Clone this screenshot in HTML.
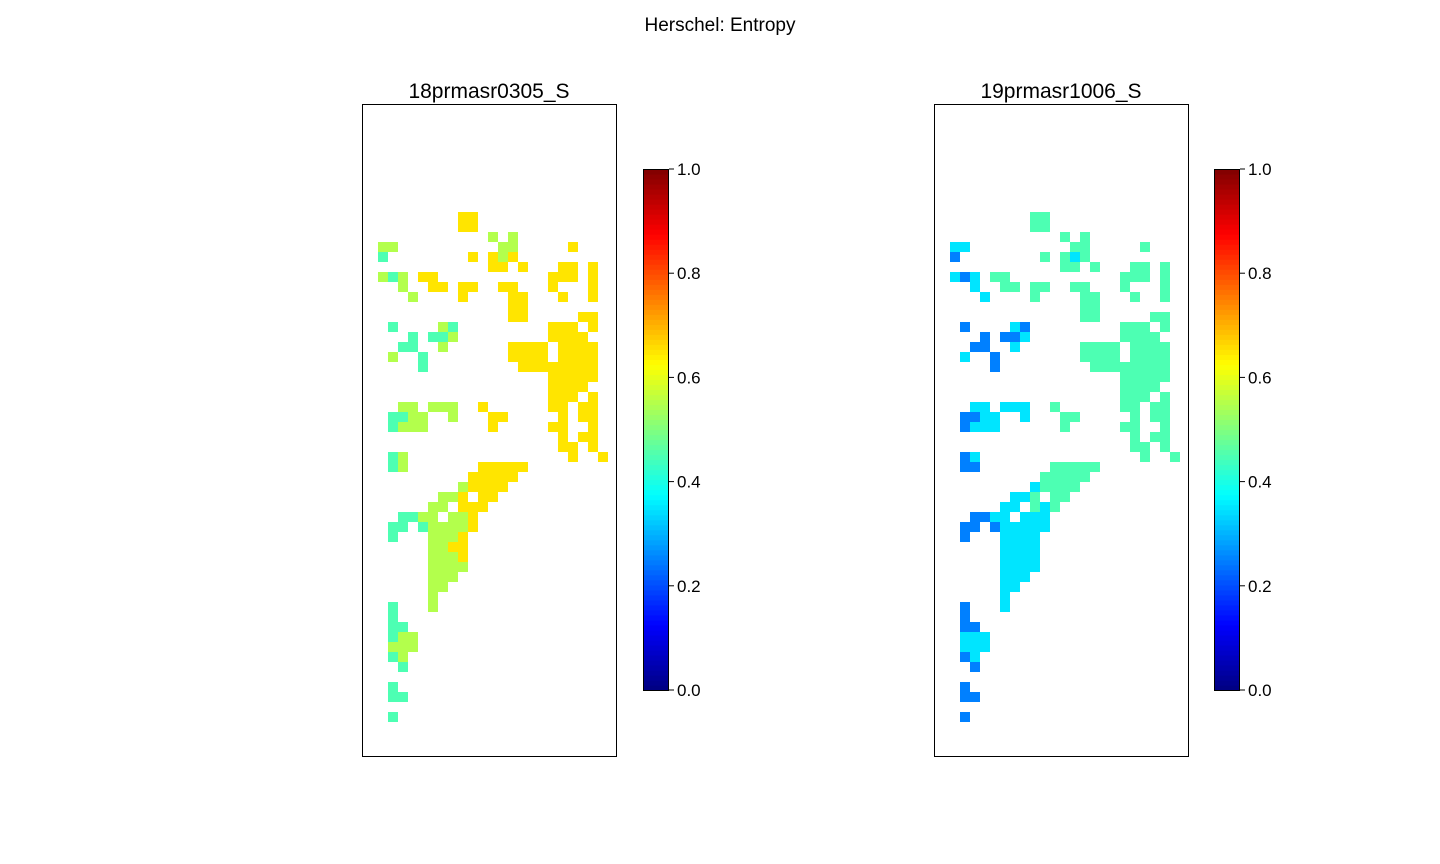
<!DOCTYPE html>
<html><head><meta charset="utf-8"><style>
html,body{margin:0;padding:0;background:#fff;}
svg{display:block;font-family:"Liberation Sans","DejaVu Sans",sans-serif;}
</style></head><body>
<svg id="fig" width="1440" height="864" viewBox="0 0 1440 864" xmlns="http://www.w3.org/2000/svg">
<rect width="1440" height="864" fill="#fff"/>
<text x="720" y="31" font-size="19" text-anchor="middle">Herschel: Entropy</text>
<g id="panels"></g>
</svg>
<script>
// each digit d is a value bin: value = (d + 0.5) / 10
const leftGrid = [
"........66.............",
"........66.............",
"...........5.5.........",
"55..........55.....6...",
"4........6.656.........",
"...........66.6...66.6.",
"545.66...........666.6.",
"..5..66.66..66...6...6.",
"...5....6....66...6..6.",
".............66........",
".............66.....66.",
".4....54.........666.6.",
"...4.445.........6666..",
"..44..5......6666.6666.",
".5..4........6666.6666.",
"....4.........66666666.",
".................66666.",
".................6666..",
".................666.6.",
"..55.555..6......66.66.",
".4455..5...66.....6.66.",
".4555......6.....66..6.",
"..................6.66.",
"..................66.6.",
".45................6..6",
".45.......66666........",
".........66666.........",
"........56666..........",
"......556.66...........",
".....55.666............",
"..4455.556.............",
".44.455556.............",
".4...5556..............",
".....5566..............",
".....5556..............",
".....5555..............",
".....555...............",
".....55................",
".....5.................",
".4...5.................",
".4.....................",
".44....................",
".455...................",
".555...................",
".45....................",
"..4....................",
".......................",
".4.....................",
".44....................",
".......................",
".4.....................",
"......................."
];
const rightGrid = [
"........44.............",
"........44.............",
"...........4.4.........",
"33..........44.....4...",
"2........4.434.........",
"...........44.4...44.4.",
"323.44...........444.4.",
"..3..44.44..44...4...4.",
"...3....4....44...4..4.",
".............44........",
".............44.....44.",
".2....32.........444.4.",
"...2.223.........4444..",
"..22..3......4444.4444.",
".3..2........4444.4444.",
"....2.........44444444.",
".................44444.",
".................4444..",
".................444.4.",
"..33.333..4......44.44.",
".2233..3...44.....4.44.",
".2333......4.....44..4.",
"..................4.44.",
"..................44.4.",
".23................4..4",
".22.......44444........",
".........44444.........",
"........34444..........",
"......334.44...........",
".....33.434............",
"..2233.333.............",
".22.233333.............",
".2...3333..............",
".....3333..............",
".....3333..............",
".....3333..............",
".....333...............",
".....33................",
".....3.................",
".2...3.................",
".2.....................",
".22....................",
".333...................",
".333...................",
".23....................",
"..2....................",
".......................",
".2.....................",
".22....................",
".......................",
".2.....................",
"......................."
];
const panelTitles = ["18prmasr0305_S", "19prmasr1006_S"];
const cbTicks = [0.0, 0.2, 0.4, 0.6, 0.8, 1.0];
const cbTickLabels = ["0.0", "0.2", "0.4", "0.6", "0.8", "1.0"];

const NS = "http://www.w3.org/2000/svg";
function jet(v){
  v = Math.max(0, Math.min(1, v));
  const f = x => Math.max(0, Math.min(1, x));
  const r = f(1.5 - Math.abs(4*v - 3));
  const g = f(1.5 - Math.abs(4*v - 2));
  const b = f(1.5 - Math.abs(4*v - 1));
  return `rgb(${Math.round(r*255)},${Math.round(g*255)},${Math.round(b*255)})`;
}
function mk(tag, attrs, parent){
  const e = document.createElementNS(NS, tag);
  for (const k in attrs) e.setAttribute(k, attrs[k]);
  parent.appendChild(e);
  return e;
}
const root = document.getElementById("panels");
const panels = [
  {ax:362, grid:leftGrid, title:panelTitles[0], cb:643},
  {ax:934, grid:rightGrid, title:panelTitles[1], cb:1214}
];
const axTop = 104, axH = 652, axW = 254;
const gx0 = 16, gy0 = 108, cell = 10;
const cbTop = 169, cbBot = 690, cbW = 26;
const cbY = v => cbBot - v*(cbBot - cbTop);

panels.forEach((p, pi) => {
  const g = mk("g", {}, root);
  
  
  const t = mk("text", {x: p.ax + axW/2, y: 98, "font-size": 21, "text-anchor": "middle"}, g);
  
  
  t.textContent = p.title;
  const hm = mk("g", {}, g);
  
  
  p.grid.forEach((row, r) => {
    for (let c = 0; c < row.length; c++){
      const ch = row[c];
      if (ch === ".") continue;
      const v = (parseInt(ch, 10) + 0.5) / 10;
      const rc = mk("rect", {x: p.ax + gx0 + c*cell, y: axTop + gy0 + r*cell, width: cell, height: cell, fill: jet(v)}, hm);
      
      
    }
  });
  const fr = mk("rect", {x: p.ax + 0.5, y: axTop + 0.5, width: axW, height: axH, fill: "none", stroke: "#000", "stroke-width": 1}, g);
  
  
  const cbg = mk("g", {}, g);
  
  
  const n = 104;
  for (let i = 0; i < n; i++){
    const v0 = i/n, v1 = (i+1)/n;
    mk("rect", {x: p.cb, y: cbY(v1), width: cbW, height: cbY(v0) - cbY(v1) + 0.6, fill: jet((v0+v1)/2)}, cbg);
  }
  mk("rect", {x: p.cb + 0.5, y: cbTop + 0.5, width: cbW - 1, height: cbBot - cbTop, fill: "none", stroke: "#000", "stroke-width": 1}, cbg);
  cbTicks.forEach((v, i) => {
    const y = cbY(v);
    mk("line", {x1: p.cb + cbW, x2: p.cb + cbW + 5, y1: y, y2: y, stroke: "#000", "stroke-width": 1}, cbg);
    const tl = mk("text", {x: p.cb + cbW + 8, y: y + 6, "font-size": 17}, cbg);
    
    
    tl.textContent = cbTickLabels[i];
  });
});
</script>
</body></html>
